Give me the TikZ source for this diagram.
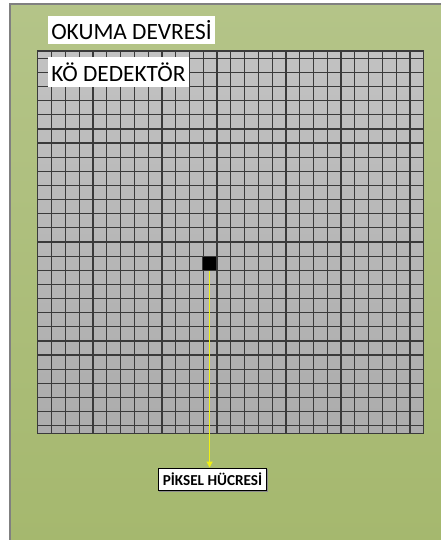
\documentclass[tikz,border=0pt]{standalone}
\usepackage{fontspec}
\setmainfont{Carlito}
\usepackage{tikz}
\usetikzlibrary{positioning,calc,arrows.meta,shadows}
\definecolor{pcbTop}{RGB}{180,196,136}
\definecolor{pcbBot}{RGB}{165,184,110}
\definecolor{cellTop}{RGB}{194,194,194}
\definecolor{cellBot}{RGB}{172,172,172}
\definecolor{gridLn}{RGB}{58,58,58}
\definecolor{ptr}{RGB}{240,240,20}

\begin{document}
\begin{tikzpicture}[x=0.75pt,y=-0.75pt,
   tag/.style={fill=white,inner xsep=2.5pt,inner ysep=0pt,anchor=west,font=\fontsize{17.5}{20}\selectfont},
   callout/.style={fill=white,draw=black,line width=0.9pt,inner xsep=3.5pt,inner ysep=0pt,
     minimum height=17pt,font=\bfseries\fontsize{11.4}{13}\selectfont,
     drop shadow={shadow xshift=0.8pt,shadow yshift=-0.8pt,fill=black!45,opacity=1}},
   gl/.style={gridLn,line width=0.9pt}]
\useasboundingbox (0,0) rectangle (440,540);
%% ---- readout board ----
\fill[white] (0,0) rectangle (440,540);
\shade[top color=pcbTop,bottom color=pcbBot] (10,4) rectangle (445,545);
\draw[black!50,line width=1pt] (10,545) -- (10,4) -- (445,4);

%% ---- focal plane array ----
\shade[top color=cellTop,bottom color=cellBot] (37.3,51) rectangle (423.3,433.3);
\foreach \k in {0,...,26}
  \draw[gl] (51.7+13.78*\k,51) -- (51.7+13.78*\k,433.3);
\foreach \k in {0,...,26}
  \draw[gl] (37.3,58.3+14.13*\k) -- (423.3,58.3+14.13*\k);
\draw[gl] (37.3,51) rectangle (423.3,433.3);

%% ---- one pixel ----
\node[fill=black,draw=gridLn,line width=0.8pt,minimum width=13.78*0.75pt,minimum height=14.13*0.75pt,
  inner sep=0pt] (pix) at (202.7+6.89,256.1+7.07) {};

%% ---- labels ----
\node[tag,minimum height=28.6*0.75pt] (okuma) at (47.7,30) {OKUMA DEVRESİ};
\node[tag,minimum height=30.6*0.75pt] (fpa) at (47.7,72) {KÖ DEDEKTÖR};
\node[callout] (cell) at (212.5,479.5) {PİKSEL HÜCRESİ};
\draw[ptr,line width=1pt,-{Triangle[length=4.5pt,width=4.5pt]}] (pix.south) -- (pix.south |- cell.north);
\end{tikzpicture}
\end{document}
